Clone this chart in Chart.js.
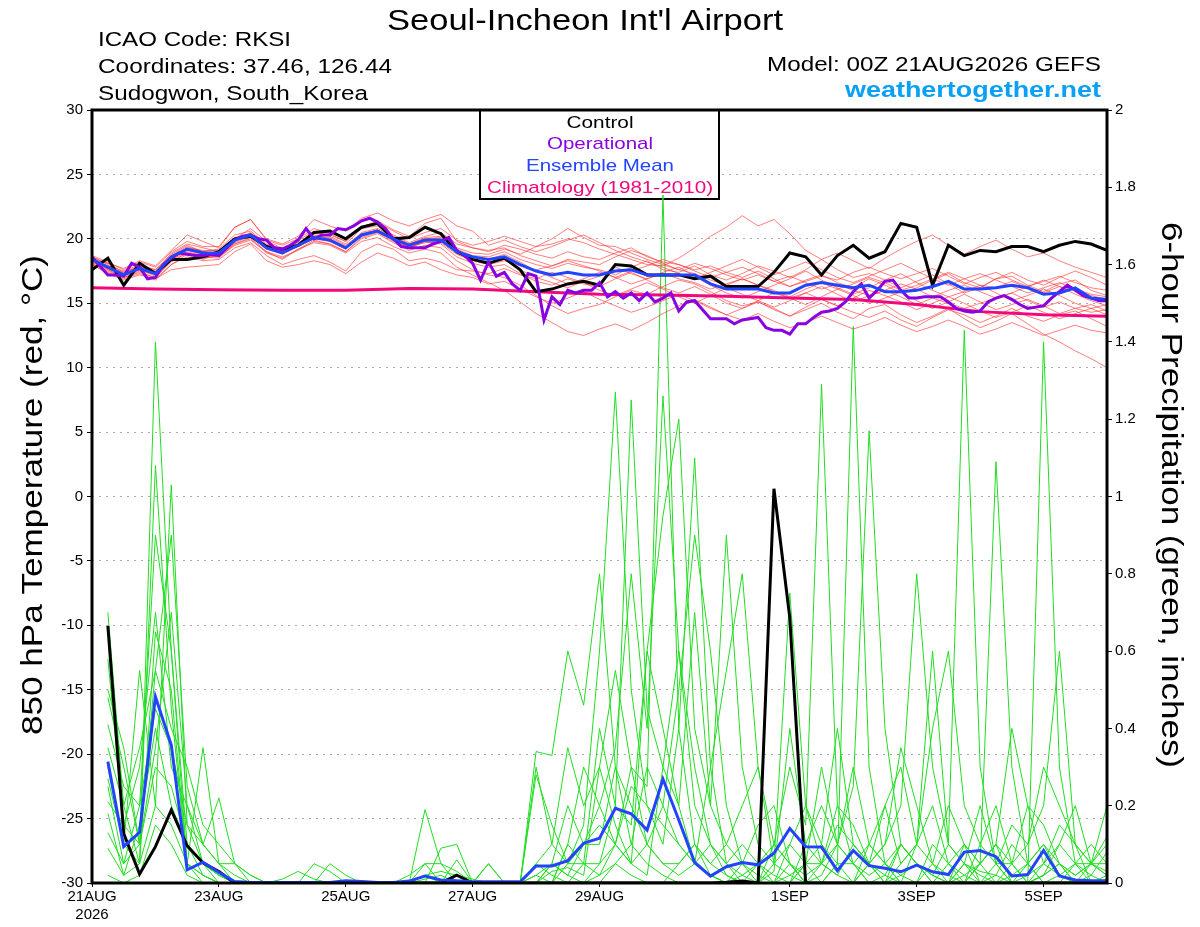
<!DOCTYPE html>
<html>
<head>
<meta charset="utf-8">
<script src="https://cdn.jsdelivr.net/npm/chart.js@4.4.0/dist/chart.umd.min.js"></script>
<style>
  html, body { margin: 0; padding: 0; background: #fff; }
  canvas { display: block; }
</style>
</head>
<body>
<canvas id="grafik" width="1200" height="927"></canvas>
<script>
//////////////////////// DATA ////////////////////////
const stepHours = 6;      // GEFS members, control, mean
const opStepHours = 3;    // operational run
const climStepHours = 24; // daily climatology

const xTickHours = [0, 48, 96, 144, 192, 264, 312, 360];
const xTickLabels = [['21AUG', '2026'], '23AUG', '25AUG', '27AUG', '29AUG', '1SEP', '3SEP', '5SEP'];

// 850 hPa temperature (C)
const controlTemp = [
  17.6,18.5,16.4,18.1,17.3,18.4,18.4,18.6,19.0,20.0,20.2,19.4,19.2,19.5,20.5,20.6,
  20.0,20.9,21.2,20.0,20.1,20.9,20.4,19.0,18.4,18.1,18.5,17.6,15.9,16.1,16.5,16.7,
  16.4,18.0,17.9,17.2,17.2,17.2,16.9,17.1,16.3,16.3,16.3,17.4,18.9,18.6,17.2,18.7,
  19.5,18.5,19.0,21.2,20.9,16.4,19.5,18.7,19.1,19.0,19.4,19.4,19.0,19.5,19.8,19.6,
  19.1];
const meanTemp = [
  18.4,17.8,17.2,17.7,17.3,18.6,19.2,18.9,18.9,19.9,20.3,19.3,18.9,19.5,20.1,19.9,
  19.3,20.3,20.6,20.0,19.5,19.9,19.9,19.0,18.6,18.4,18.6,18.0,17.5,17.2,17.4,17.2,
  17.2,17.5,17.6,17.2,17.2,17.2,17.2,16.5,16.1,16.1,16.1,15.8,15.8,16.4,16.6,16.4,
  16.2,16.4,15.9,15.9,16.0,16.3,16.7,16.1,16.1,16.2,16.4,16.2,15.7,15.8,16.2,15.4,
  15.3];
const operationalTemp = [
  18.6,17.9,17.2,17.2,17.1,18.1,17.8,16.9,17.0,18.0,18.5,18.9,18.8,18.7,18.7,18.8,
  18.7,19.3,19.9,20.2,20.3,20.0,19.9,19.3,19.2,19.5,19.9,20.8,20.0,20.3,20.3,20.8,
  20.7,21.0,21.4,21.6,21.3,20.8,20.0,19.4,19.3,19.3,19.3,19.6,19.8,20.1,19.1,18.7,
  18.1,16.8,18.2,17.1,17.4,16.5,16.0,17.3,17.1,13.7,15.5,14.9,16.0,15.8,16.0,16.0,
  16.6,15.5,15.9,15.4,15.8,15.2,15.8,15.1,15.4,15.8,14.4,15.1,15.2,14.5,13.8,13.8,
  13.8,13.4,13.7,13.8,13.9,13.1,12.9,12.9,12.6,13.4,13.4,13.9,14.3,14.4,14.6,15.1,
  15.9,16.5,15.4,16.0,16.7,16.8,16.0,15.4,15.4,15.5,15.5,15.5,15.1,14.6,14.4,14.3,
  14.4,15.1,15.4,15.6,15.3,14.9,14.6,14.7,14.8,15.4,15.9,16.4,16.0,15.6,15.4,15.2,
  15.2];
const climatologyTemp = [16.2,16.1,16.05,16.0,16.0,16.15,16.1,15.9,15.7,15.65,15.55,15.4,15.3,14.9,14.35,14.1,14.0];

// ensemble members, temperature
const memTemp01 = [
  18.3,17.9,17.5,18.0,17.6,18.8,19.5,19.0,19.2,20.3,20.6,19.6,19.1,19.9,20.6,20.2,
  19.6,20.8,21.0,20.3,19.7,20.2,20.5,19.6,19.3,19.0,19.5,19.2,18.8,18.5,19.0,18.6,
  18.4,18.9,19.3,18.6,18.2,18.0,17.6,17.9,17.4,17.0,17.5,16.9,16.3,16.8,17.2,16.6,
  16.2,16.9,16.4,15.8,16.2,16.8,17.3,16.6,16.2,16.9,17.1,16.4,15.9,16.5,16.8,16.0,
  15.6];
const memTemp02 = [
  18.5,17.6,17.0,17.4,17.0,18.2,18.9,18.6,18.5,19.6,20.1,19.0,18.6,19.1,19.8,19.6,
  19.0,20.0,20.4,19.7,19.1,19.5,19.3,18.3,17.6,17.2,17.0,16.4,15.6,14.8,14.2,14.6,
  14.9,15.5,16.0,15.7,16.3,16.8,16.5,15.9,15.2,14.8,15.1,14.6,14.0,14.5,15.0,14.3,
  13.8,14.6,14.9,14.1,13.5,14.0,14.6,13.8,13.1,13.6,14.2,13.4,12.6,12.0,11.3,10.7,
  10.0];
const memTemp03 = [
  18.2,17.7,17.3,17.9,17.4,18.9,19.6,19.3,19.0,20.0,20.8,19.8,19.3,19.7,20.4,20.3,
  19.8,20.9,21.3,20.6,20.0,20.5,20.8,19.9,19.5,19.8,20.2,19.8,19.4,19.6,20.0,19.7,
  19.2,18.8,18.4,18.0,17.9,18.5,19.3,20.2,20.9,21.8,21.0,21.5,20.4,19.1,18.4,17.6,
  17.0,17.3,16.8,16.2,16.7,17.2,16.5,15.8,16.2,16.9,17.4,16.8,16.4,17.0,17.5,17.0,
  16.4];
const memTemp04 = [
  18.6,18.0,17.1,17.6,17.2,18.4,19.0,18.7,18.6,19.5,19.9,19.0,18.4,19.2,19.7,19.5,
  18.9,19.8,20.1,19.4,18.9,19.2,18.9,17.8,17.2,16.6,16.0,15.1,14.2,13.5,12.8,12.5,
  13.0,13.4,12.9,13.5,14.2,14.8,15.3,14.7,14.1,14.6,15.2,15.8,15.4,14.9,15.5,16.1,
  15.6,15.0,15.4,15.9,15.2,14.6,15.1,15.7,15.1,14.5,14.9,15.3,14.8,14.2,14.6,14.9,
  14.4];
const memTemp05 = [
  18.4,17.8,17.4,17.8,17.5,18.6,19.3,19.1,19.1,20.1,20.4,19.5,19.0,19.6,20.3,20.0,
  19.4,20.5,20.8,20.2,19.6,20.1,20.2,19.2,18.7,18.6,19.0,18.4,18.0,17.7,18.1,17.8,
  17.6,17.2,17.8,18.3,17.6,17.4,17.9,17.2,16.8,17.3,17.9,17.5,17.0,17.6,18.4,18.9,
  18.3,17.7,18.5,19.2,19.8,20.3,19.5,18.8,19.4,19.9,19.2,18.6,18.9,18.3,17.8,17.4,
  17.0];
const memTemp06 = [
  18.1,17.5,17.0,17.5,16.9,18.0,18.8,18.5,18.7,19.6,20.0,18.9,18.5,19.2,19.9,19.6,
  19.0,20.1,20.5,19.8,19.3,19.8,19.6,18.6,18.1,17.8,18.0,17.3,16.7,16.4,16.9,16.5,
  16.3,16.9,17.4,16.8,16.2,15.8,16.3,15.7,15.0,14.6,15.1,14.5,14.0,14.7,15.3,14.8,
  14.3,13.9,14.4,13.7,13.2,13.9,14.5,14.1,13.5,14.0,14.6,14.0,13.6,14.1,14.4,13.8,
  13.2];
const memTemp07 = [
  18.7,18.2,17.6,18.2,17.8,19.0,19.8,19.4,19.4,20.9,21.5,19.9,19.5,20.0,20.8,20.4,
  19.8,20.9,21.4,20.7,20.2,21.2,21.6,19.8,19.3,19.1,19.3,18.7,18.3,17.9,18.4,18.2,
  18.0,18.6,19.1,18.7,18.1,17.6,17.3,16.8,16.4,16.9,16.4,16.0,15.5,16.1,16.6,16.1,
  16.5,17.0,16.6,16.0,16.4,16.9,17.4,16.9,16.4,16.2,16.7,16.2,15.8,16.3,16.0,15.6,
  15.3];
const memTemp08 = [
  18.2,17.6,17.2,17.6,17.1,18.3,18.9,18.4,18.8,19.7,20.2,19.2,18.8,19.4,20.0,19.8,
  19.2,20.3,20.7,19.9,19.4,19.7,19.8,18.9,18.4,18.1,18.4,17.6,17.0,16.6,16.2,16.7,
  17.1,17.8,17.3,16.9,17.4,17.8,17.1,16.4,15.8,15.4,15.9,16.4,16.9,17.5,16.8,16.2,
  15.7,16.2,16.8,17.3,16.6,16.0,15.5,15.9,16.4,15.8,15.2,15.6,16.1,15.6,15.0,14.6,
  14.9];
const memTemp09 = [
  18.4,18.1,17.4,17.9,17.6,18.7,19.2,19.0,18.8,19.8,20.4,19.4,19.1,19.6,20.2,20.1,
  19.5,20.4,20.7,20.1,19.6,20.0,20.1,19.3,18.9,18.8,19.2,18.8,19.4,20.0,20.8,20.1,
  19.5,19.4,18.9,18.4,18.0,17.6,18.1,17.7,17.2,16.8,17.2,16.7,16.3,16.7,17.1,16.8,
  17.4,17.8,17.3,16.9,17.3,17.7,17.1,16.5,17.0,17.4,16.8,16.3,16.7,17.1,16.6,16.2,
  16.0];
const memTemp10 = [
  18.0,17.4,16.9,17.3,16.8,18.0,18.6,18.3,18.4,19.3,19.7,18.7,18.0,18.4,18.7,18.2,
  17.5,19.0,19.6,19.2,18.3,18.5,18.2,17.6,17.5,17.3,17.7,17.2,16.9,17.4,17.0,16.6,
  16.0,15.6,16.1,16.6,16.1,15.5,15.0,15.6,16.2,15.7,15.2,14.7,15.2,15.8,15.3,14.8,
  15.4,16.0,15.6,15.1,14.5,15.0,15.5,15.0,14.4,13.9,14.3,14.8,14.3,13.8,14.2,14.6,
  14.1];
const memTemp11 = [
  18.5,17.8,17.2,17.8,17.3,18.5,19.1,18.8,18.9,20.0,20.2,19.3,18.9,19.4,20.1,19.8,
  19.2,20.3,20.6,19.9,19.3,19.8,19.7,18.8,18.3,18.0,18.3,17.9,17.6,17.9,18.3,17.9,
  17.5,17.0,17.5,17.9,18.4,18.0,17.5,17.0,17.4,17.8,17.3,16.7,17.1,16.6,16.1,16.5,
  16.0,15.6,16.0,16.5,16.1,15.5,16.0,16.4,15.9,15.4,15.8,16.3,16.8,16.3,15.7,15.2,
  14.8];
const memTemp12 = [
  18.3,17.7,17.3,17.6,17.4,18.7,19.4,19.0,18.7,19.9,20.5,19.5,19.0,19.5,20.0,19.9,
  19.3,20.2,20.6,20.0,19.5,20.0,20.0,19.1,18.6,18.4,18.8,18.2,17.5,17.0,16.5,16.9,
  17.4,17.0,16.5,16.9,17.3,16.9,16.6,16.1,16.5,16.9,16.4,15.9,15.4,15.8,16.3,15.7,
  15.1,15.6,16.0,15.5,14.9,15.4,15.0,14.6,15.0,15.4,15.8,15.2,14.7,15.1,14.6,14.3,
  14.5];
const memTemp13 = [
  18.6,18.1,17.7,18.3,17.9,19.1,20.3,19.8,19.3,20.9,21.5,20.0,19.6,20.2,21.5,21.0,
  20.6,21.6,22.0,21.4,21.0,21.5,21.9,21.0,20.6,19.5,19.9,19.4,19.0,19.4,19.9,20.3,
  19.7,19.1,18.6,18.2,17.8,17.3,16.9,17.4,17.9,18.4,17.8,17.2,17.7,18.2,17.6,17.0,
  16.6,17.1,17.6,18.1,17.5,16.9,16.4,16.9,17.3,16.8,16.3,15.8,16.2,16.6,16.1,15.7,
  15.5];
const memTemp14 = [
  18.0,17.3,16.8,17.2,16.9,17.6,17.8,17.9,18.0,19.0,19.6,18.3,17.8,18.0,18.3,18.0,
  17.3,18.2,18.9,18.5,17.9,18.2,17.6,17.2,17.0,16.5,16.7,16.1,15.5,15.0,15.4,15.9,
  15.3,14.8,14.3,14.7,15.2,15.7,15.2,14.6,14.1,13.7,14.2,13.6,13.1,13.5,14.0,13.5,
  13.0,13.4,13.9,13.3,12.8,13.2,13.7,13.2,12.6,13.0,13.5,13.0,12.5,12.9,13.3,12.9,
  12.7];

// 6-hour precipitation (inches), no value at hour 0
const controlPrecip = [
  null,.665,.128,.023,.094,.189,.096,.052,.030,0,0,0,0,0,0,0,
  0,0,0,0,0,0,0,.020,0,0,0,0,0,0,0,0,
  0,0,0,0,0,0,0,0,.002,.005,0,1.02,.686,0,0,0,
  0,0,0,0,0,0,0,0,0,0,0,0,0,0,0,0,
  0];
const meanPrecip = [
  null,.314,.094,.131,.482,.357,.034,.054,.027,.004,.001,.001,.001,.001,.001,.001,
  .006,.004,.001,.001,.005,.018,.008,.006,.003,.003,.003,.003,.044,.044,.058,.103,
  .116,.193,.179,.137,.269,.163,.053,.018,.042,.053,.047,.077,.141,.094,.093,.032,
  .084,.045,.038,.029,.046,.029,.022,.080,.084,.068,.018,.022,.084,.018,.008,.006,
  .006];

// ensemble members, precipitation
const memPrecip01 = [
  null,.70,.20,.05,1.40,.60,.10,.05, .02,0,0,0,0,0,0,0,
  0,0,0,0,0,.02,0,0, 0,0,0,0,.05,.10,.35,.20,
  .30,.55,.30,.25,1.78,.40,.10,.02, 0,0,.05,.10,.30,.15,1.29,.20,
  .05,0,.02,.10,.05,0,0,.02, 0,0,0,.05,.10,.02,0,0,
  0];
const memPrecip02 = [
  null,.50,.35,.10,1.08,.45,.05,.35, .05,0,0,0,.01,.03,.01,0,
  0,0,0,0,0,0,0,0, 0,0,0,0,.30,.10,.05,.15,
  .60,1.27,.50,.20,.10,.40,1.10,.30, .05,0,0,0,.10,.05,0,.05,
  1.44,.30,.05,0,.10,.20,.05,0, .05,.10,0,0,1.40,.30,.05,.02,
  0];
const memPrecip03 = [
  null,.30,.10,.55,.20,1.03,.15,.10, .22,.05,.02,0,0,0,0,.05,
  .02,0,0,0,0,.19,.05,0, 0,0,0,0,0,.05,.02,0,
  .05,.20,1.25,.45,.30,.60,.20,.10, .05,.02,0,.03,.40,.10,.05,.02,
  0,.05,.10,.20,.80,.30,.10,1.43, .30,.05,0,.02,.05,.10,.20,.05,
  .02];
const memPrecip04 = [
  null,.25,.05,.20,.90,.60,.05,.02, 0,0,0,0,0,0,0,0,
  0,0,0,0,0,0,.09,.10, 0,0,0,0,.34,.33,.60,.46,
  .80,.30,.10,.05,.02,0,0,0, 0,.05,.15,.20,.05,0,.02,.10,
  .25,1.17,.40,.10,.05,0,0,.10, .05,1.09,.30,.05,0,0,.05,.10,
  .05];
const memPrecip05 = [
  null,.58,.15,.30,.70,.30,.20,.10, .05,.05,0,0,0,0,.05,.03,
  0,0,0,0,.02,.05,0,.06, 0,.05,0,0,.28,.15,.05,.10,
  .20,.35,.80,.40,1.26,.60,.30,.10, .02,0,0,0,0,.05,.05,.20,
  .15,.05,.10,.35,.20,.05,.02,0, .05,.10,.40,.20,.05,.02,0,.05,
  .10];
const memPrecip06 = [
  null,.48,.30,.10,.55,.40,.30,.15, .10,.05,.02,0,0,0,0,0,
  0,0,0,0,0,.02,.03,.02, .01,0,0,0,0,0,.10,.05,
  .40,.20,.15,.60,.95,1.20,.40,.20, .10,.05,.02,0,0,.10,.20,.10,
  .05,0,0,.05,.10,.40,.60,.20, .10,.05,0,0,.05,.15,.10,.05,
  .05];
const memPrecip07 = [
  null,.41,.25,.20,.45,.35,.15,.05, .02,0,0,0,0,0,0,0,
  0,0,0,0,0,.05,.05,.03, 0,.05,0,0,0,0,.10,.30,
  .20,.10,.05,.60,.40,.20,.70,.20, .90,.30,.10,.05,.75,.20,.05,.02,
  .10,.05,.20,.30,.10,.60,.10,.05, .20,.05,.05,.10,.30,.20,.10,0,
  0];
const memPrecip08 = [
  null,.35,.20,.35,.55,.90,.25,.10, .05,.02,0,0,0,0,0,0,
  0,0,0,0,0,0,0,0, 0,0,0,0,.02,0,.05,.05,
  .05,.10,.25,.20,.15,.10,.05,.02, 0,0,0,.10,.05,.02,.05,.10,
  .30,.10,.05,0,0,.05,.20,.10, 0,.05,.15,.10,.20,.60,.10,.05,
  .02];
const memPrecip09 = [
  null,.27,.10,.05,.65,.50,.05,.02, 0,0,0,0,0,0,0,0,
  0,0,0,0,0,0,0,0, 0,0,0,0,0,0,0,0,
  0,.05,.10,.30,.20,.10,.05,.30, .55,.80,.30,.10,.05,0,0,0,
  0,.05,0,.10,.05,.02,0,0, .10,.20,.05,0,.02,.05,.02,.05,
  .03];
const memPrecip10 = [
  null,.13,.05,.10,.30,.25,.10,.05, 0,0,0,0,0,0,0,0,
  0,0,0,0,0,0,0,0, 0,0,0,0,.02,.05,.20,.10,
  .10,.30,.20,.10,.05,.05,.10,.05, .10,.20,.30,.05,.10,.20,.10,.05,
  0,.10,.20,.05,.10,.05,0,.05, .02,0,.05,.20,.15,.05,0,.02,
  .08];
const memPrecip11 = [
  null,.09,.02,.05,.20,.15,.05,0, 0,0,0,0,0,0,0,0,
  0,0,0,0,0,0,0,0, 0,0,0,0,0,.05,.02,.10,
  .15,.10,.30,.10,.05,.02,.05,.10, .05,.10,.05,0,.02,.05,.10,.40,
  .10,.05,.02,0,0,.10,.05,.02, .05,.10,.05,0,.02,.10,.05,0,
  .01];
const memPrecip12 = [
  null,.21,.15,.10,.35,.70,.20,.05, .02,0,0,0,0,0,0,0,
  0,0,0,0,0,0,0,0, 0,0,0,0,0,.03,.04,.02,
  .30,.15,.05,.10,.20,.50,.90,.60, .20,.05,0,0,.05,0,0,.05,
  .05,.10,.05,.02,0,0,.05,.10, .05,0,.02,.05,.10,.05,0,0,
  .02];
const memPrecip13 = [
  null,.02,0,.02,.15,.10,.02,0, 0,0,0,0,0,0,0,0,
  0,0,0,0,0,0,0,0, 0,0,0,0,0,0,0,0,
  .02,.05,.02,0,0,.05,.10,.05, .02,0,0,.05,.02,0,.05,.15,
  .10,.05,0,.02,.05,.02,0,.05, .03,.02,0,0,.02,.05,.02,.05,
  .12];
const memPrecip14 = [
  null,.18,.02,.15,.40,.20,.10,.02, 0,0,0,0,0,0,0,0,
  0,0,0,0,0,.01,.02,0, 0,0,0,0,.05,.02,0,.05,
  .02,.10,.05,.02,.30,.20,.05,.02, 0,.02,.05,.02,0,.05,.30,.10,
  .05,.02,.05,.10,.05,.02,.10,.05, 0,.02,.10,.05,0,.02,.05,.05,
  .20];

const tempMembers = [memTemp01, memTemp02, memTemp03, memTemp04, memTemp05, memTemp06, memTemp07,
                     memTemp08, memTemp09, memTemp10, memTemp11, memTemp12, memTemp13, memTemp14];
const precipMembers = [memPrecip01, memPrecip02, memPrecip03, memPrecip04, memPrecip05, memPrecip06, memPrecip07,
                       memPrecip08, memPrecip09, memPrecip10, memPrecip11, memPrecip12, memPrecip13, memPrecip14];

//////////////////////// TEXTS ////////////////////////
const titleText = "Seoul-Incheon Int'l Airport";
const infoLines = ['ICAO Code: RKSI', 'Coordinates: 37.46, 126.44', 'Sudogwon, South_Korea'];
const modelText = 'Model: 00Z 21AUG2026 GEFS';
const siteText = 'weathertogether.net';
const leftTitle = '850 hPa Temperature (red, \u00B0C)';
const rightTitle = '6-hour Precipitation (green, inches)';
const legendRows = [
    ['Control', '#000000'],
    ['Operational', '#8a00e0'],
    ['Ensemble Mean', '#2244ff'],
    ['Climatology (1981-2010)', '#f0087c']
];

const FONT = '"Liberation Sans", Arial, Helvetica, sans-serif';

function toPoints(values, step) {
    return values.map((v, i) => ({ x: i * step, y: v }));
}

// stretch text horizontally so it covers the given width
function fitText(ctx, text, x, y, width, align) {
    const m = ctx.measureText(text).width;
    ctx.save();
    ctx.translate(x, y);
    ctx.scale(width / m, 1);
    ctx.textAlign = align;
    ctx.fillText(text, 0, 0);
    ctx.restore();
}

//////////////////////// DATASETS ////////////////////////
const datasets = [];

precipMembers.forEach(m => {
    datasets.push({
        data: toPoints(m, stepHours), yAxisID: 'yP',
        borderColor: '#22dd22', borderWidth: 1, order: 60
    });
});
tempMembers.forEach(m => {
    datasets.push({
        data: toPoints(m, stepHours), yAxisID: 'yT',
        borderColor: 'rgba(255, 40, 40, 0.6)', borderWidth: 1, order: 50
    });
});
datasets.push({ data: toPoints(climatologyTemp, climStepHours), yAxisID: 'yT', borderColor: '#f0087c', borderWidth: 3, order: 6 });
datasets.push({ data: toPoints(controlTemp, stepHours), yAxisID: 'yT', borderColor: '#000000', borderWidth: 3, order: 5 });
datasets.push({ data: toPoints(controlPrecip, stepHours), yAxisID: 'yP', borderColor: '#000000', borderWidth: 3, order: 5 });
datasets.push({ data: toPoints(operationalTemp, opStepHours), yAxisID: 'yT', borderColor: '#8a00e0', borderWidth: 3, order: 4 });
datasets.push({ data: toPoints(meanTemp, stepHours), yAxisID: 'yT', borderColor: '#2244ff', borderWidth: 3, order: 3 });
datasets.push({ data: toPoints(meanPrecip, stepHours), yAxisID: 'yP', borderColor: '#2244ff', borderWidth: 3, order: 3 });

//////////////////////// PLUGINS ////////////////////////
const legendBox = {
    id: 'legendBox',
    beforeDatasetsDraw(chart) {
        const ctx = chart.ctx;
        ctx.save();
        ctx.fillStyle = '#fff';
        ctx.fillRect(480, 110, 239, 89);
        ctx.strokeStyle = '#000';
        ctx.lineWidth = 2;
        ctx.strokeRect(480, 110, 239, 89);
        ctx.font = '17px ' + FONT;
        ctx.textBaseline = 'alphabetic';
        const widths = [67, 106, 148, 226];
        legendRows.forEach((r, k) => {
            ctx.fillStyle = r[1];
            fitText(ctx, r[0], 600, 127.5 + k * 21.7, widths[k], 'center');
        });
        ctx.restore();
    }
};

const frame = {
    id: 'frame',
    afterDatasetsDraw(chart) {
        const a = chart.chartArea;
        const ctx = chart.ctx;
        ctx.save();
        ctx.strokeStyle = '#000';
        ctx.lineWidth = 3;
        ctx.strokeRect(a.left, a.top, a.right - a.left, a.bottom - a.top);
        ctx.restore();
    }
};

const header = {
    id: 'header',
    afterDraw(chart) {
        const ctx = chart.ctx;
        ctx.save();
        ctx.fillStyle = '#000';
        ctx.textBaseline = 'alphabetic';

        ctx.font = '29px ' + FONT;
        fitText(ctx, titleText, 585, 29.5, 396, 'center');

        ctx.font = '20px ' + FONT;
        fitText(ctx, infoLines[0], 98, 46, 193, 'left');
        fitText(ctx, infoLines[1], 98, 72.7, 294, 'left');
        fitText(ctx, infoLines[2], 98, 99.5, 270, 'left');
        fitText(ctx, modelText, 1101, 70.7, 334, 'right');

        ctx.font = 'bold 22px ' + FONT;
        ctx.fillStyle = '#0aa0f5';
        fitText(ctx, siteText, 1101, 96.5, 256, 'right');

        // axis titles
        ctx.fillStyle = '#000';
        ctx.font = '29px ' + FONT;
        ctx.save();
        ctx.translate(42, 495);
        ctx.rotate(-Math.PI / 2);
        fitText(ctx, leftTitle, 0, 0, 480, 'center');
        ctx.restore();

        ctx.save();
        ctx.translate(1162, 495);
        ctx.rotate(Math.PI / 2);
        fitText(ctx, rightTitle, 0, 0, 546, 'center');
        ctx.restore();

        ctx.restore();
    }
};

//////////////////////// CHART ////////////////////////
const tickFont = { family: FONT, size: 15 };

new Chart(document.getElementById('grafik').getContext('2d'), {
    type: 'line',
    data: { datasets: datasets },
    options: {
        responsive: false,
        animation: false,
        devicePixelRatio: 1,
        layout: { padding: { top: 110, left: 0, right: 0, bottom: 0 } },
        elements: {
            point: { radius: 0 },
            line: { tension: 0, fill: false }
        },
        plugins: {
            legend: { display: false },
            tooltip: { enabled: false },
            title: { display: false }
        },
        scales: {
            x: {
                type: 'linear',
                min: 0,
                max: 384,
                afterBuildTicks: scale => {
                    scale.ticks = xTickHours.map(v => ({ value: v }));
                },
                afterFit: scale => { scale.height = 44; },
                ticks: {
                    autoSkip: false,
                    maxRotation: 0,
                    minRotation: 0,
                    color: '#000',
                    font: tickFont,
                    padding: 1,
                    callback: value => xTickLabels[xTickHours.indexOf(value)]
                },
                grid: { drawOnChartArea: false, drawTicks: true, tickLength: 4, tickColor: '#000', tickWidth: 1 },
                border: { display: false }
            },
            yT: {
                position: 'left',
                min: -30,
                max: 30,
                afterFit: scale => { scale.width = 92; },
                ticks: { stepSize: 5, maxTicksLimit: 20, color: '#000', font: tickFont, padding: 4 },
                grid: { color: '#aaaaaa', lineWidth: 1, tickLength: 5, tickColor: '#000', tickWidth: 1, tickBorderDash: [] },
                border: { display: false, dash: [2, 5] }
            },
            yP: {
                position: 'right',
                min: 0,
                max: 2,
                afterFit: scale => { scale.width = 93; },
                ticks: {
                    stepSize: 0.2, maxTicksLimit: 20, color: '#000', font: tickFont, padding: 3,
                    callback: v => String(Math.round(v * 10) / 10)
                },
                grid: { drawOnChartArea: false, tickLength: 5, tickColor: '#000', tickWidth: 1 },
                border: { display: false }
            }
        }
    },
    plugins: [legendBox, frame, header]
});
</script>
</body>
</html>
